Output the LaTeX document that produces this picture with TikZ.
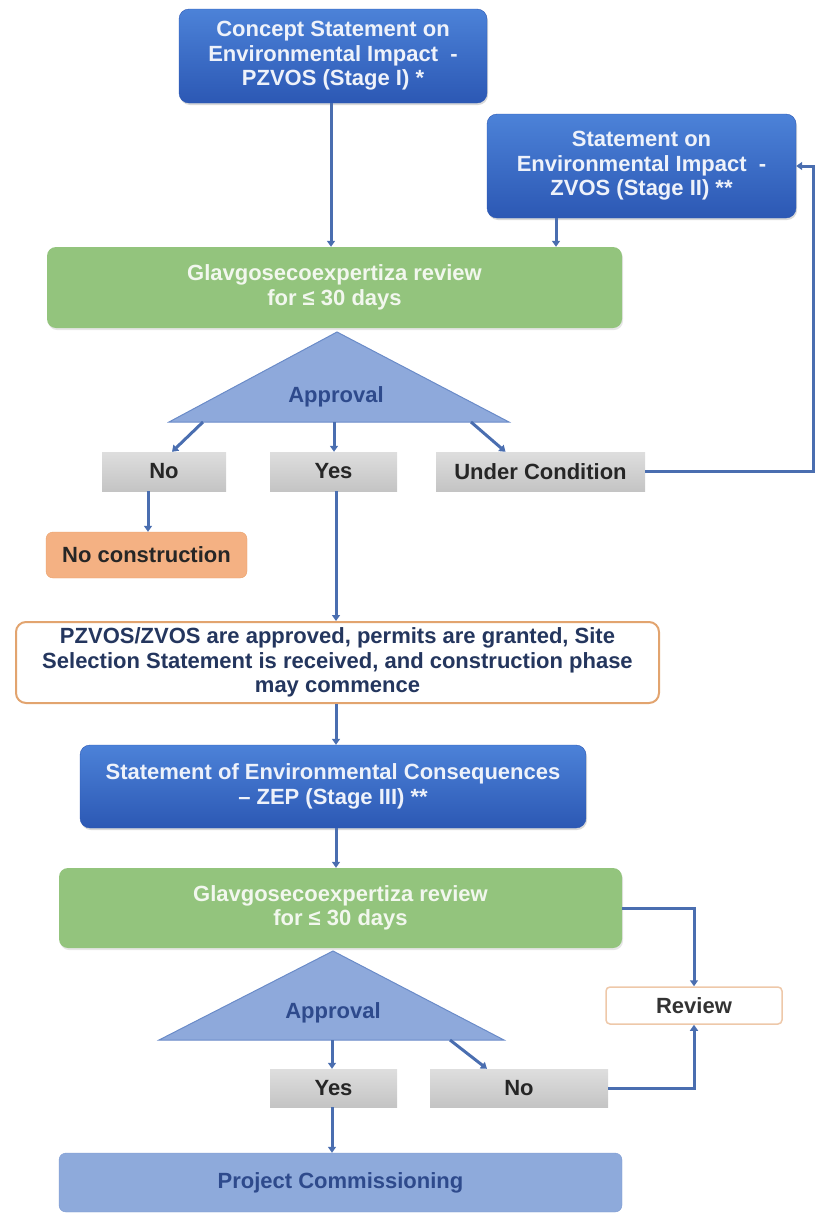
\documentclass[tikz,border=0pt]{standalone}
\usepackage{fontspec}
\setmainfont{Liberation Sans}
\usetikzlibrary{arrows.meta,shadows}
\definecolor{blueT}{HTML}{4C82D8}
\definecolor{blueB}{HTML}{2C58B4}
\definecolor{greenF}{HTML}{93C47D}
\definecolor{greenTxt}{HTML}{F2F7EE}
\definecolor{grayT}{HTML}{DEDEDE}
\definecolor{grayB}{HTML}{C4C4C4}
\definecolor{triF}{HTML}{8EA9DB}
\definecolor{triD}{HTML}{6A8BC8}
\definecolor{arrC}{HTML}{4A6EB0}
\definecolor{orangeF}{HTML}{F4B183}
\definecolor{orangeD}{HTML}{E9A06A}
\definecolor{bigD}{HTML}{E2A46F}
\definecolor{navyTxt}{HTML}{24365E}
\definecolor{apTxt}{HTML}{2E4A8C}
\definecolor{projF}{HTML}{8EAADB}
\definecolor{projD}{HTML}{7C9AD2}
\definecolor{lightTxt}{HTML}{EEF2FA}
\begin{document}
\begin{tikzpicture}[x=1pt,y=-1pt,
  txt/.style={align=center, inner sep=0pt, font=\fontsize{22}{24.5}\selectfont\bfseries},
  box/.style={txt, rectangle},
  bluebox/.style={box, rounded corners=10pt, top color=blueT, bottom color=blueB, draw=blueB, text=lightTxt,
    drop shadow={opacity=0.3, shadow xshift=1pt, shadow yshift=-2pt}},
  greenbox/.style={box, rounded corners=9pt, fill=greenF, text=greenTxt,
    drop shadow={opacity=0.2, shadow xshift=1pt, shadow yshift=-2pt}},
  graybox/.style={box, top color=grayT, bottom color=grayB, text=black!85},
  orangebox/.style={box, rounded corners=7pt, fill=orangeF, draw=orangeD, text=black!85},
  outlinebox/.style={box, rounded corners=10pt, fill=white, draw=bigD, line width=2pt, text=navyTxt},
  reviewbox/.style={box, rounded corners=4pt, fill=white, draw=bigD!60, line width=1.5pt, text=black!80},
  projbox/.style={box, rounded corners=7pt, fill=projF, draw=projD, text=apTxt},
  tri/.style={fill=triF, draw=triD, line width=1pt},
  aptext/.style={txt, text=apTxt},
  arr/.style={draw=arrC, line width=3pt, -{Triangle[length=6pt,width=8pt]}}
]
\useasboundingbox (0,0) rectangle (817,1216);

% top boxes
\node[bluebox, minimum width=308pt, minimum height=94pt] (c1) at (333,56)
  {Concept Statement on\\Environmental Impact \ -\\PZVOS (Stage I) *};
\node[bluebox, minimum width=309pt, minimum height=104pt] (c2) at (641.5,166)
  {Statement on\\Environmental Impact \ -\\ZVOS (Stage II) **};
\node[greenbox, minimum width=575pt, minimum height=81pt] (g1) at (334.5,287.5)
  {Glavgosecoexpertiza review\\for ≤ 30 days};

% first decision
\draw[tri] (337,332) coordinate (t1apex) -- (509,422) coordinate (t1r) -- (169,422) coordinate (t1l) -- cycle;
\node[aptext] (ap1) at (336,397) {Approval};
\coordinate (t1no) at (203,422);
\coordinate (t1yes) at (334,422);
\coordinate (t1uc) at (471,422);

\node[graybox, minimum width=124pt, minimum height=39pt] (no1) at (164,471.5) {No};
\node[graybox, minimum width=127pt, minimum height=39pt] (yes1) at (333.5,471.5) {Yes};
\node[graybox, minimum width=209pt, minimum height=39pt] (uc) at (540.5,471.5) {Under Condition};
\node[orangebox, minimum width=201pt, minimum height=46pt] (nc) at (146.5,555) {No construction};

\node[outlinebox, minimum width=643pt, minimum height=81pt] (big) at (337.5,662.5)
  {PZVOS/ZVOS are approved, permits are granted, Site\\Selection Statement is received, and construction phase\\may commence};

\node[bluebox, minimum width=506pt, minimum height=83pt] (zep) at (333,786.5)
  {Statement of Environmental Consequences\\– ZEP (Stage III) **};
\node[greenbox, minimum width=563pt, minimum height=80pt] (g2) at (340.5,908)
  {Glavgosecoexpertiza review\\for ≤ 30 days};

% second decision
\draw[tri] (333,951) coordinate (t2apex) -- (504,1040) coordinate (t2r) -- (159,1040) coordinate (t2l) -- cycle;
\node[aptext] (ap2) at (333,1013) {Approval};
\coordinate (t2yes) at (332,1040);
\coordinate (t2no) at (450,1040);

\node[graybox, minimum width=127pt, minimum height=38pt] (yes2) at (333.5,1088) {Yes};
\node[graybox, minimum width=178pt, minimum height=38pt] (no2) at (519,1088) {No};
\node[reviewbox, minimum width=176pt, minimum height=37pt] (rev) at (694,1005.5) {Review};
\node[projbox, minimum width=563pt, minimum height=59pt] (proj) at (340.5,1182.5) {Project Commissioning};

% connectors
\draw[arr] ([xshift=-2pt]c1.south) -- ([xshift=-2pt]c1.south |- g1.north);
\draw[arr] ([xshift=-85.5pt]c2.south) -- ([xshift=-85.5pt]c2.south |- g1.north);
\draw[arr] (t1no) -- ([xshift=8pt]no1.north);
\draw[arr] (t1yes) -- (t1yes |- yes1.north);
\draw[arr] (t1uc) -- ([xshift=-35pt]uc.north);
\draw[arr] (uc.east) -- ++(168,0) |- (c2.east);
\draw[arr] ([xshift=1.5pt]nc.south |- no1.south) -- ([xshift=1.5pt]nc.north);
\draw[arr] ([xshift=2.5pt]yes1.south) -- ([xshift=2.5pt]yes1.south |- big.north);
\draw[arr] ([xshift=-1.5pt]big.south) -- ([xshift=-1.5pt]big.south |- zep.north);
\draw[arr] ([xshift=3pt]zep.south) -- ([xshift=3pt]zep.south |- g2.north);
\draw[arr] (g2.east) -| (rev.north);
\draw[arr] (t2yes) -- (t2yes |- yes2.north);
\draw[arr] (t2no) -- ([xshift=-32pt]no2.north);
\draw[arr] (no2.east) -| (rev.south);
\draw[arr] ([xshift=-1.5pt]yes2.south) -- ([xshift=-1.5pt]yes2.south |- proj.north);
\end{tikzpicture}
\end{document}
